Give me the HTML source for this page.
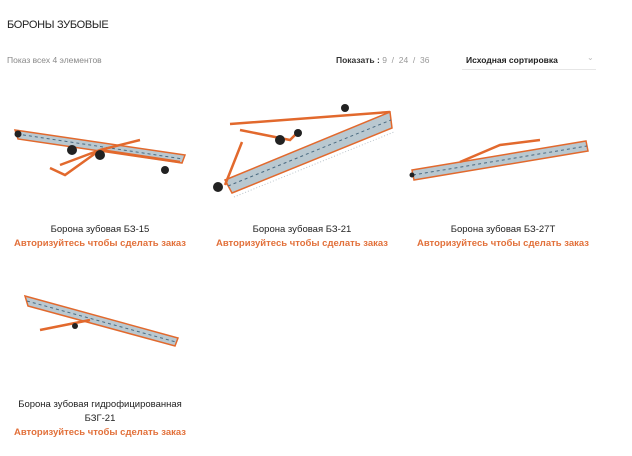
<!DOCTYPE html>
<html><head><meta charset="utf-8"><style>
body{margin:0;width:632px;height:456px;background:#fff;font-family:"Liberation Sans",sans-serif;position:relative;overflow:hidden}
.a{position:absolute;white-space:nowrap}
.t{font-size:11px;color:#222;letter-spacing:-0.3px}
.n{font-size:9.5px;color:#222;text-align:center;width:200px}
.o{font-size:9.5px;color:#e2703a;font-weight:bold;text-align:center;width:200px}
svg{position:absolute;left:0;top:0}
</style></head><body>
<div class="a t" style="left:7px;top:19px">БОРОНЫ ЗУБОВЫЕ</div>
<div class="a" style="left:7px;top:55px;font-size:8.5px;color:#888">Показ всех 4 элементов</div>
<div class="a" style="left:336px;top:55px;font-size:8.5px;color:#333"><b>Показать :</b> <span style="color:#999">9 &nbsp;/&nbsp; 24 &nbsp;/&nbsp; 36</span></div>
<div class="a" style="left:466px;top:55px;font-size:8.5px;color:#222;font-weight:bold">Исходная сортировка</div>
<div class="a" style="left:587px;top:53px;font-size:8px;color:#bbb">⌄</div>
<div class="a" style="left:462px;top:69px;width:134px;border-top:1px solid #e6e6e6"></div>

<svg width="632" height="456">
<!-- panels -->
<g fill="#b9c8d0" stroke="#e2692d" stroke-width="1.5">
 <polygon points="15,130 185,155 182,163 18,139"/>
 <polygon points="225,180 390,112 392,128 232,193"/>
 <polygon points="412,170 586,141 588,151 414,180"/>
 <polygon points="25,296 178,338 175,346 28,306"/>
</g>
<g stroke="#4a6a80" stroke-width="1" stroke-dasharray="3 3" fill="none">
 <path d="M17 134 L183 159"/>
 <path d="M228 186 L391 120"/>
 <path d="M413 175 L587 146"/>
 <path d="M27 301 L176 342"/>
</g>
<g stroke="#bcc5cc" stroke-width="1" fill="none">
 <path d="M232 193 L392 128" stroke-dasharray="1 2" transform="translate(2,4)"/>
</g>
<g stroke="#e2692d" fill="none" stroke-width="2.5">
 <path d="M60 165 L100 150 L180 162 M50 168 L65 175 L100 150 M100 150 L140 140"/>
 <path d="M230 124 L390 112 M240 130 L290 140 L300 130 M242 142 L225 185"/>
 <path d="M460 162 L500 145 L540 140"/>
 <path d="M40 330 L90 320"/>
</g>
<g fill="#222">
 <circle cx="72" cy="150" r="5"/><circle cx="100" cy="155" r="5"/><circle cx="165" cy="170" r="4"/><circle cx="18" cy="134" r="3.5"/>
 <circle cx="218" cy="187" r="5"/><circle cx="280" cy="140" r="5"/><circle cx="345" cy="108" r="4"/><circle cx="298" cy="133" r="4"/>
 <circle cx="412" cy="175" r="2.5"/>
 <circle cx="75" cy="326" r="3"/>
</g>
</svg>

<div class="a n" style="left:0;top:224px">Борона зубовая БЗ-15</div>
<div class="a o" style="left:0;top:238px">Авторизуйтесь чтобы сделать заказ</div>
<div class="a n" style="left:202px;top:224px">Борона зубовая БЗ-21</div>
<div class="a o" style="left:202px;top:238px">Авторизуйтесь чтобы сделать заказ</div>
<div class="a n" style="left:403px;top:224px">Борона зубовая БЗ-27Т</div>
<div class="a o" style="left:403px;top:238px">Авторизуйтесь чтобы сделать заказ</div>
<div class="a n" style="left:0;top:399px">Борона зубовая гидрофицированная</div>
<div class="a n" style="left:0;top:413px">БЗГ-21</div>
<div class="a o" style="left:0;top:427px">Авторизуйтесь чтобы сделать заказ</div>
</body></html>
